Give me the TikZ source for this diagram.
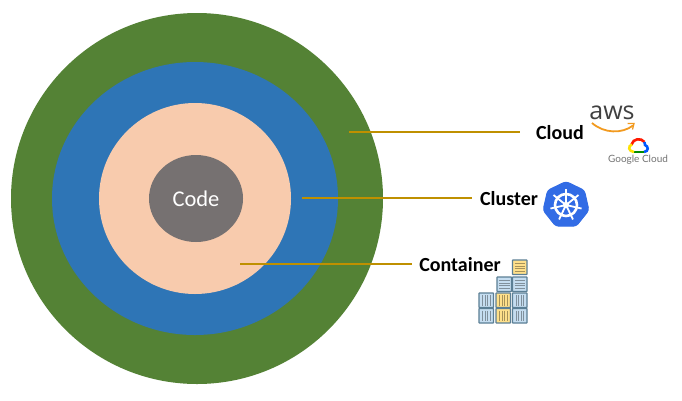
\documentclass[tikz,border=0pt]{standalone}
\usepackage{fontspec}
\setmainfont{Carlito}
\newfontfamily\awsfont{Open Sans}
\newfontfamily\gcfont{Lato}
\usetikzlibrary{positioning,shapes.geometric}
\definecolor{cloudgreen}{HTML}{548235}
\definecolor{clusterblue}{HTML}{2E75B6}
\definecolor{containerpeach}{HTML}{F8CBAD}
\definecolor{codegrey}{HTML}{767171}
\definecolor{leadgold}{HTML}{BF9000}
\definecolor{kubeblue}{HTML}{326CE5}
\definecolor{boxedge}{HTML}{5B7F95}
\definecolor{boxblue}{HTML}{C5DDF0}
\definecolor{boxyellow}{HTML}{FFE08A}
\definecolor{awsorange}{HTML}{F29A1F}
\tikzset{
    layer/.style={
        ellipse,
        inner sep=0pt
    },
    lead/.style={draw=leadgold, line width=1.5pt},
    tier/.style={
        font=\bfseries\fontsize{20}{24}\selectfont,
        inner sep=0pt
    }
}
% one stacked container: x, y, fill, stripes drawn inside
\newcommand{\crate}[4]{
    \draw[boxedge, line width=1.2pt, fill=#3, rounded corners=0.5pt] (#1,#2) rectangle +(14.5,14.5);
    \ifnum#4=0
        \foreach \d in {3.5,6,8.5,11}
            \draw[#3!65!black, line width=0.6pt] (#1+\d,#2+2) -- +(0,10.5);
    \else
        \foreach \d in {3.5,6,8.5,11}
            \draw[#3!65!black, line width=0.6pt] (#1+2,#2+\d) -- +(10.5,0);
    \fi
}
\begin{document}
\begin{tikzpicture}[x=1pt, y=-1pt]
    \useasboundingbox (0,0) rectangle (682,400);
    \fill[white] (0,0) rectangle (682,400);
    % the rings, outermost first
    \node[layer, fill=cloudgreen, minimum width=372pt, minimum height=371pt] (cloud) at (197,198.5) {};
    \node[layer, fill=clusterblue, minimum width=286pt, minimum height=273pt] (cluster) at (195,198.5) {};
    \node[layer, fill=containerpeach, minimum width=192pt, minimum height=191pt] (container) at (195,198.5) {};
    \node[layer, fill=codegrey, minimum width=94pt, minimum height=87pt, text=white,
          font=\fontsize{22.5}{26}\selectfont] (code) at (196,198.5) {Code};
    % labels
    \node[tier] (cloudlabel) at (560,133) {Cloud};
    \node[tier] (clusterlabel) at (509,199) {Cluster};
    \node[tier] (containerlabel) at (460,265) {Container};
    \coordinate (cloudend) at (349,132);
    \coordinate (clusterend) at (302,198);
    \coordinate (containerend) at (240,264);
    \draw[lead] (cloudend) -- (cloudend -| 520,0);
    \draw[lead] (clusterend) -- (clusterend -| 472,0);
    \draw[lead] (containerend) -- (containerend -| 412,0);
    % aws
    \node[font=\awsfont\fontsize{25}{25}\selectfont, text=black!75, inner sep=0pt] (aws) at (612,113) {aws};
    \draw[awsorange, line width=1.8pt] (592,123) .. controls (604,133.5) and (622,134) .. (633,125.5);
    \draw[awsorange, line width=1.3pt] (627.5,123.5) -- (634,123.5) -- (632.5,129.5);
    % google cloud
    \draw[line width=2.6pt, red!80!orange] (631.5,144.5) .. controls (633,138.5) and (641,137.5) .. (644.5,142);
    \draw[line width=2.6pt, blue!65!cyan] (644.5,142) -- (645,145) .. controls (648.5,146) and (649,151.5) .. (644,152);
    \draw[line width=2.6pt, green!55!black] (644,152) -- (634,152);
    \draw[line width=2.6pt, yellow!85!orange] (634,152) .. controls (628.5,151.5) and (627.5,146) .. (632,144.5);
    \node[font=\gcfont\fontsize{10}{12}\selectfont, text=black!55, inner sep=0pt] (google) at (638,160) {Google Cloud};
    % kubernetes
    \node[regular polygon, regular polygon sides=7, fill=kubeblue, draw=kubeblue, rounded corners=3pt,
          line width=1pt, minimum size=47pt, inner sep=0pt] (kube) at (566,205) {};
    \draw[white, line width=2.6pt] (kube.center) circle (11);
    \fill[white] (kube.center) circle (3.2);
    \foreach \a in {-90,-38.57,...,260}
        \draw[white, line width=1.8pt] (kube.center) -- +(\a:16);
    % containers
    \crate{512.5}{260}{boxyellow}{1}
    \crate{497}{277}{boxblue}{1}
    \crate{512.5}{277}{boxblue}{1}
    \foreach \col/\tone in {479/boxblue,496/boxyellow,512.5/boxblue}{
        \crate{\col}{293}{\tone}{0}
    }
    \foreach \col/\tone in {479/boxblue,496/boxyellow,512.5/boxblue}{
        \crate{\col}{308.5}{\tone}{0}
    }
\end{tikzpicture}
\end{document}
